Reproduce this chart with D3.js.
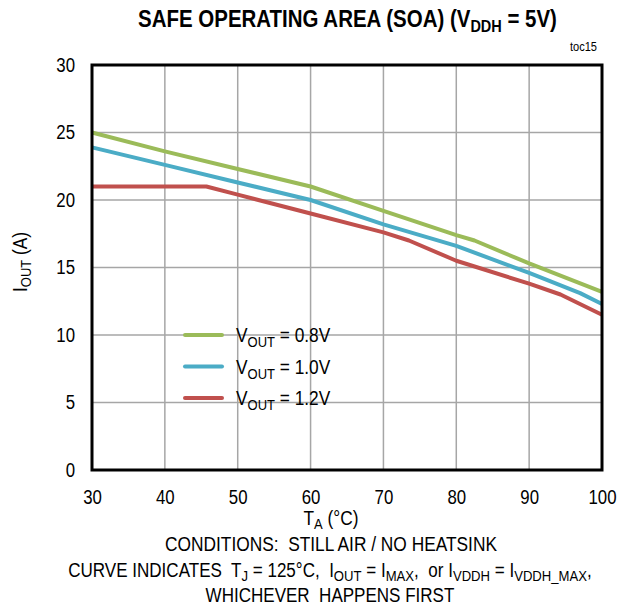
<!DOCTYPE html>
<html>
<head>
<meta charset="utf-8">
<script src="https://cdn.jsdelivr.net/npm/d3@7"></script>
<style>
  body { margin: 0; background: #fff; }
  text { font-family: "Liberation Sans", Arial, sans-serif; fill: #000; }
</style>
</head>
<body>
<svg id="chart"></svg>
<script>
// series data (T_A in °C, I_OUT in A)
const temps08 = [30, 40, 50, 60, 70, 80, 82.5, 90, 100]
const iout08 = [25.0, 23.6, 22.3, 21.0, 19.2, 17.4, 17.0, 15.3, 13.2]

const temps10 = [30, 40, 50, 60, 70, 80, 90, 97, 100]
const iout10 = [23.9, 22.6, 21.3, 20.0, 18.2, 16.6, 14.6, 13.1, 12.3]

const temps12 = [30, 45.7, 50, 60, 70, 73.5, 80, 90, 94.3, 100]
const iout12 = [21.0, 21.0, 20.4, 19.0, 17.6, 17.0, 15.5, 13.8, 13.0, 11.5]

const seriesNames = ['0.8V', '1.0V', '1.2V']
const seriesColors = ['#9bbb59', '#4bacc6', '#c0504d']

const xTicks = [30, 40, 50, 60, 70, 80, 90, 100]
const yTicks = [0, 5, 10, 15, 20, 25, 30]

const width = 629
const height = 608
const margin = { top: 65, right: 27, bottom: 138, left: 92 }
const narrow = 0.82

const svg = d3.select('#chart')
    .attr('width', width)
    .attr('height', height)

const x = d3.scaleLinear().domain([30, 100]).range([margin.left, width - margin.right])
const y = d3.scaleLinear().domain([0, 30]).range([height - margin.bottom, margin.top])

// squeeze a text element horizontally around its anchor x, to a target width
function fit(t, w) {
    const node = t.node()
    const ax = +t.attr('x') || 0
    const s = w ? w / node.getBBox().width : narrow
    t.attr('transform', `translate(${ax},0) scale(${s},1) translate(${-ax},0)`)
}

// grid
const grid = svg.append('g').attr('stroke', '#a6a6a6').attr('stroke-width', 1.5)
grid.selectAll('line.v')
    .data(xTicks.slice(1, -1))
    .join('line')
    .attr('x1', (d) => x(d)).attr('x2', (d) => x(d))
    .attr('y1', y(0)).attr('y2', y(30))
grid.selectAll('line.h')
    .data(yTicks.slice(1, -1))
    .join('line')
    .attr('class', 'h')
    .attr('x1', x(30)).attr('x2', x(100))
    .attr('y1', (d) => y(d)).attr('y2', (d) => y(d))

// curves
const line = d3.line().x((d) => x(d[0])).y((d) => y(d[1]))
const series = [
    d3.zip(temps08, iout08),
    d3.zip(temps10, iout10),
    d3.zip(temps12, iout12)
]
svg.append('g')
    .selectAll('path')
    .data(series)
    .join('path')
    .attr('fill', 'none')
    .attr('stroke', (d, i) => seriesColors[i])
    .attr('stroke-width', 4)
    .attr('stroke-linejoin', 'round')
    .attr('d', line)

// frame
svg.append('rect')
    .attr('x', x(30)).attr('y', y(30))
    .attr('width', x(100) - x(30)).attr('height', y(0) - y(30))
    .attr('fill', 'none').attr('stroke', '#000').attr('stroke-width', 3)

// axes
const xAxis = svg.append('g')
    .attr('transform', `translate(0,${y(0) + 11})`)
    .call(d3.axisBottom(x).tickValues(xTicks).tickSize(0).tickPadding(8))
xAxis.select('.domain').remove()
xAxis.selectAll('text').attr('font-size', 20.5).style('font-family', null)
    .attr('transform', `scale(${narrow},1)`)

const yAxis = svg.append('g')
    .attr('transform', `translate(${x(30) - 17},0)`)
    .call(d3.axisLeft(y).tickValues(yTicks).tickSize(0).tickPadding(0))
yAxis.select('.domain').remove()
yAxis.selectAll('text').attr('font-size', 20.5).attr('dy', '0.3em').style('font-family', null)
    .attr('transform', `scale(${narrow},1)`)

// title
const title = svg.append('text')
    .attr('x', 347.5).attr('y', 27)
    .attr('text-anchor', 'middle')
    .attr('font-size', 24)
    .attr('font-weight', 'bold')
title.append('tspan').text('SAFE OPERATING AREA (SOA) (V')
title.append('tspan').attr('font-size', 17).attr('dy', 5).text('DDH')
title.append('tspan').attr('dy', -5).text(' = 5V)')
fit(title, 419)

const toc = svg.append('text')
    .attr('x', 597).attr('y', 51)
    .attr('text-anchor', 'end')
    .attr('font-size', 13.5)
    .text('toc15')
fit(toc)

// y axis title
const yTitle = svg.append('text')
    .attr('transform', `translate(27,262) rotate(-90)`)
    .attr('text-anchor', 'middle')
    .attr('font-size', 20)
    .attr('textLength', 60)
    .attr('lengthAdjust', 'spacingAndGlyphs')
yTitle.append('tspan').text('I')
yTitle.append('tspan').attr('font-size', 15).attr('dy', 4).text('OUT')
yTitle.append('tspan').attr('dy', -4).text(' (A)')

// x axis title
const xTitle = svg.append('text')
    .attr('x', 331).attr('y', 525)
    .attr('text-anchor', 'middle')
    .attr('font-size', 20)
xTitle.append('tspan').text('T')
xTitle.append('tspan').attr('font-size', 15).attr('dy', 4).text('A')
xTitle.append('tspan').attr('dy', -4).text(' (°C)')
fit(xTitle, 55)

// notes
const cond = svg.append('text')
    .attr('x', 331).attr('y', 551)
    .attr('text-anchor', 'middle')
    .attr('font-size', 19.5)
    .attr('xml:space', 'preserve')
    .text('CONDITIONS:  STILL AIR / NO HEATSINK')
fit(cond, 332)

const note = svg.append('text')
    .attr('x', 330).attr('y', 577)
    .attr('text-anchor', 'middle')
    .attr('font-size', 19.5)
    .attr('xml:space', 'preserve')
const parts = [
    ['CURVE INDICATES  T', 0], ['J', 1], [' = 125°C,  I', 0], ['OUT', 1], [' = I', 0], ['MAX', 1],
    [',  or I', 0], ['VDDH', 1], [' = I', 0], ['VDDH_MAX', 1], [',', 0]
]
let prev = 0
parts.forEach(([t, sub]) => {
    const shift = sub ? 4 : 0
    note.append('tspan')
        .attr('dy', shift - prev)
        .attr('font-size', sub ? 15 : 19.5)
        .text(t)
    prev = shift
})
fit(note, 524)

const last = svg.append('text')
    .attr('x', 330).attr('y', 602)
    .attr('text-anchor', 'middle')
    .attr('font-size', 19.5)
    .attr('xml:space', 'preserve')
    .text('WHICHEVER  HAPPENS FIRST')
fit(last, 249)

// legend
const legend = svg.append('g')
    .selectAll('g')
    .data(seriesNames)
    .join('g')
    .attr('transform', (d, i) => `translate(185,${335 + i * 31.5})`)
legend.append('line')
    .attr('x1', 0).attr('x2', 37)
    .attr('stroke', (d, i) => seriesColors[i])
    .attr('stroke-width', 4)
    .attr('stroke-linecap', 'round')
legend.append('text')
    .attr('x', 51).attr('y', 7)
    .attr('font-size', 20)
    .each(function (d) {
        const t = d3.select(this)
        t.append('tspan').text('V')
        t.append('tspan').attr('font-size', 15).attr('dy', 5).text('OUT')
        t.append('tspan').attr('dy', -5).text(' = ' + d)
        fit(t, 95)
    })
</script>
</body>
</html>
